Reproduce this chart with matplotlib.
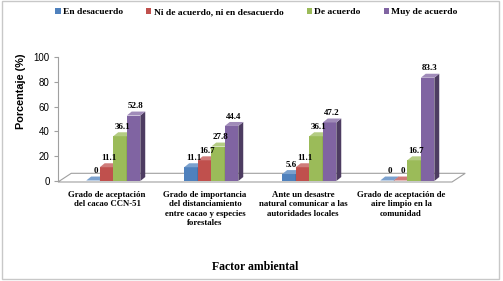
import matplotlib.pyplot as plt
from matplotlib.patches import Polygon, Rectangle
import matplotlib.colors as mcolors
import numpy as np

categories = ["Grado de aceptación\ndel cacao CCN-51",
              "Grado de importancia\ndel distanciamiento\nentre cacao y especies\nforestales",
              "Ante un desastre\nnatural comunicar a las\nautoridades locales",
              "Grado de aceptación de\naire limpio en la\ncomunidad"]
series = ["En desacuerdo", "Ni de acuerdo, ni en desacuerdo", "De acuerdo", "Muy de acuerdo"]
en_desacuerdo = [0, 11.1, 5.6, 0]
ni_ni = [11.1, 16.7, 11.1, 0]
de_acuerdo = [36.1, 27.8, 36.1, 16.7]
muy_de_acuerdo = [52.8, 44.4, 47.2, 83.3]
yticks = [0, 20, 40, 60, 80, 100]

values = [en_desacuerdo, ni_ni, de_acuerdo, muy_de_acuerdo]
colors = ["#4F81BD", "#C0504D", "#9BBB59", "#8064A2"]

serif = "Liberation Serif"

def shade(c, f):
    r, g, b = mcolors.to_rgb(c)
    if f < 1:
        return (r * f, g * f, b * f)
    f = f - 1
    return (r + (1 - r) * f, g + (1 - g) * f, b + (1 - b) * f)

fig = plt.figure(figsize=(5.03, 2.81), dpi=100)
ax = fig.add_axes([58 / 503, 100 / 281, 394 / 503, 124 / 281])
x0, x1 = -0.50, 3.52
ax.set_xlim(x0, x1)
ax.set_ylim(0, 100)

# floor
fdx, fdy = 0.135, 7.0
floor = Polygon([(x0, -0.8), (x1, -0.8), (x1 + fdx, -0.8 + fdy), (x0 + fdx, -0.8 + fdy)],
                closed=True, facecolor="white", edgecolor="#A0A0A0", lw=0.8, clip_on=False, zorder=1)
ax.add_patch(floor)

w = 0.138
dx, dy = 0.05, 3.2
x = np.arange(len(categories))
for k, (vals, col) in enumerate(zip(values, colors)):
    for i, v in enumerate(vals):
        left = x[i] + (k - 1.5) * w - 0.005
        h = max(v, 0.4)
        z = 3 + k
        ax.add_patch(Rectangle((left, 0), w, h, facecolor=col, edgecolor="none", zorder=z, clip_on=False))
        ax.add_patch(Polygon([(left + w, 0), (left + w + dx, dy), (left + w + dx, h + dy), (left + w, h)],
                             closed=True, facecolor=shade(col, 0.6), edgecolor="none", zorder=z, clip_on=False))
        ax.add_patch(Polygon([(left, h), (left + w, h), (left + w + dx, h + dy), (left + dx, h + dy)],
                             closed=True, facecolor=shade(col, 1.25), edgecolor="none", zorder=z, clip_on=False))
        lab = "%g" % v
        ax.text(left + w / 2 + dx / 2, h + dy + 1.0, lab, ha="center", va="bottom",
                fontsize=6.5, fontweight="bold", family=serif, zorder=10)

for s in ["top", "right", "bottom"]:
    ax.spines[s].set_visible(False)
ax.spines["left"].set_color("#A0A0A0")
ax.spines["left"].set_linewidth(0.8)
ax.set_yticks(yticks)
ax.tick_params(axis="y", length=3, color="#A0A0A0", labelsize=7, pad=3)
for t in ax.get_yticklabels():
    t.set_family("Liberation Sans")
ax.set_xticks(x)
ax.set_xticklabels(categories, fontsize=6.3, fontweight="bold", family=serif, va="top", linespacing=1.25)
ax.tick_params(axis="x", length=0, pad=7)
ax.set_ylabel("Porcentaje (%)", fontsize=7.8, fontweight="bold", family="Liberation Sans")
ax.yaxis.set_label_coords(-0.08, 0.72)
fig.text(255 / 503, 1 - 267 / 281, "Factor ambiental", ha="center", va="center",
         fontsize=8.5, fontweight="bold", family=serif)
ax.patch.set_visible(False)

handles = [Rectangle((0, 0), 1, 1, facecolor=c) for c in colors]
fig.legend(handles, series, loc="center", bbox_to_anchor=(0.51, 1 - 12 / 281), ncol=4, frameon=False,
           prop={"family": serif, "weight": "bold", "size": 6.8}, handlelength=0.55, handleheight=0.55,
           handletextpad=0.25, columnspacing=2.45)

fig.add_artist(Rectangle((2 / 503, 2 / 281), 497 / 503, 278 / 281, transform=fig.transFigure,
                         fill=False, edgecolor="#C8C8C8", lw=1))

fig.savefig("out.png", dpi=100)
